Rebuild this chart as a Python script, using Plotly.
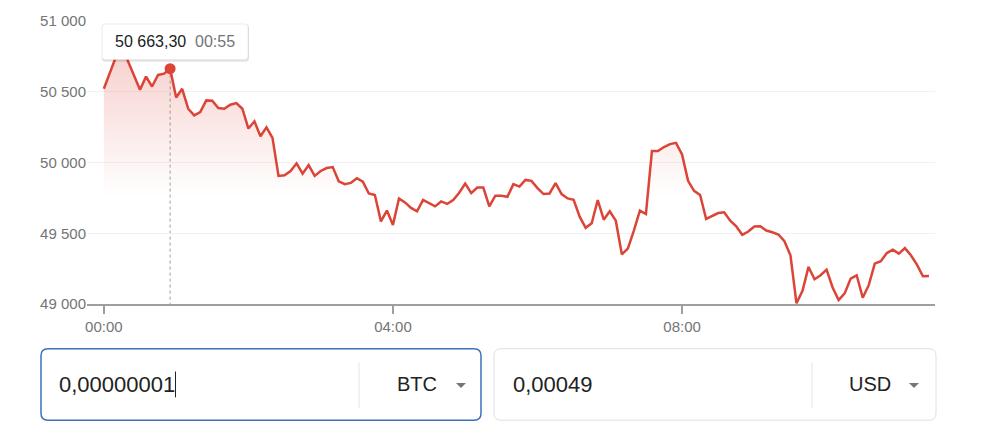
import plotly.graph_objects as go
import pandas as pd

# ---------------- data ----------------
start_time = "2021-01-01 00:00"
interval = "5min"
price = [
    50521, 50628, 50747, 50818, 50712, 50614, 50514, 50607, 50537, 50619,
    50628, 50663.3, 50460, 50521, 50380, 50333, 50356, 50439, 50436, 50385,
    50380, 50408, 50420, 50380, 50240, 50291, 50186, 50249, 50174, 49905,
    49910, 49940, 49994, 49921, 49982, 49905, 49940, 49961, 49968, 49867,
    49847, 49856, 49889, 49865, 49781, 49770, 49584, 49660, 49559, 49746,
    49718, 49679, 49655, 49735, 49714, 49690, 49725, 49707, 49735, 49786,
    49851, 49784, 49823, 49823, 49690, 49765, 49765, 49758, 49847, 49830,
    49877, 49870, 49819, 49777, 49781, 49854, 49777, 49746, 49737, 49617,
    49538, 49570, 49735, 49596, 49655, 49589, 49351, 49391, 49519, 49660,
    49636, 50081, 50081, 50109, 50130, 50139, 50057, 49870, 49800, 49770,
    49601, 49624, 49643, 49648, 49589, 49549, 49489, 49512, 49547, 49549,
    49519, 49507, 49491, 49444, 49344, 49005, 49093, 49262, 49175, 49203,
    49243, 49117, 49028, 49075, 49180, 49203, 49044, 49133, 49285, 49302,
    49360, 49384, 49356, 49395, 49344, 49278, 49196, 49198,
]
hover_index = 11
hover_price_label = "50 663,30"
hover_time_label = "00:55"

y_tick_vals = [49000, 49500, 50000, 50500, 51000]
y_tick_text = ["49 000", "49 500", "50 000", "50 500", "51 000"]
x_tick_text = ["00:00", "04:00", "08:00"]

from_amount = "0,00000001"
from_currency = "BTC"
to_amount = "0,00049"
to_currency = "USD"

times = pd.date_range(start_time, periods=len(price), freq=interval)
x_tick_vals = [pd.Timestamp("2021-01-01 " + t) for t in x_tick_text]

# ---------------- layout helpers (pixel -> paper) ----------------
W, H = 1007, 434
ML, MR, MT, MB = 87, 72, 19, 130
PW = W - ML - MR
PH = H - MT - MB


def px(x):
    return (x - ML) / PW


def py(y):
    return (H - MB - y) / PH


def rrect(x0, y0, x1, y1, r):
    return (
        f"M {px(x0 + r)},{py(y0)} L {px(x1 - r)},{py(y0)} "
        f"Q {px(x1)},{py(y0)} {px(x1)},{py(y0 + r)} L {px(x1)},{py(y1 - r)} "
        f"Q {px(x1)},{py(y1)} {px(x1 - r)},{py(y1)} L {px(x0 + r)},{py(y1)} "
        f"Q {px(x0)},{py(y1)} {px(x0)},{py(y1 - r)} L {px(x0)},{py(y0 + r)} "
        f"Q {px(x0)},{py(y0)} {px(x0 + r)},{py(y0)} Z"
    )


def tri(cx, cy, w, h):
    return (f"M {px(cx - w / 2)},{py(cy - h / 2)} L {px(cx + w / 2)},{py(cy - h / 2)} "
            f"L {px(cx)},{py(cy + h / 2)} Z")


RED = "#db4437"
FONT = "Arial, Liberation Sans, sans-serif"

fig = go.Figure()
fig.add_trace(go.Scatter(
    x=times, y=price, mode="lines",
    line=dict(color=RED, width=2.5),
    fill="tozeroy",
    fillgradient=dict(
        type="vertical",
        colorscale=[[0, "rgba(219,68,55,0)"], [0.38, "rgba(219,68,55,0)"],
                    [1, "rgba(219,68,55,0.30)"]],
        start=49000, stop=51000,
    ),
    hoverinfo="skip", showlegend=False,
))
fig.add_trace(go.Scatter(
    x=[times[hover_index]], y=[price[hover_index]], mode="markers",
    marker=dict(color=RED, size=11), hoverinfo="skip", showlegend=False,
))

shapes = []
# hover dashed line
shapes.append(dict(type="line", xref="x", yref="y",
                   x0=times[hover_index], x1=times[hover_index],
                   y0=price[hover_index], y1=49000,
                   line=dict(color="#9e9e9e", width=1, dash="dot"), layer="below"))
# tooltip shadow + box
shapes.append(dict(type="path", xref="paper", yref="paper", path=rrect(102, 23, 249, 60, 3),
                   fillcolor="rgba(0,0,0,0.10)", line=dict(width=0), layer="above"))
shapes.append(dict(type="path", xref="paper", yref="paper", path=rrect(102, 22, 248, 58, 3),
                   fillcolor="white", line=dict(color="rgba(0,0,0,0.08)", width=1), layer="above"))
# input boxes
shapes.append(dict(type="path", xref="paper", yref="paper", path=rrect(41, 349, 481, 421, 7),
                   fillcolor="white", line=dict(color="#3d72b8", width=1.5)))
shapes.append(dict(type="path", xref="paper", yref="paper", path=rrect(494, 349, 936, 421, 7),
                   fillcolor="white", line=dict(color="#e0e0e0", width=1)))
# dividers
for xd in (359, 812):
    shapes.append(dict(type="line", xref="paper", yref="paper",
                       x0=px(xd), x1=px(xd), y0=py(363), y1=py(409),
                       line=dict(color="#e4e4e4", width=1)))
# cursor
shapes.append(dict(type="line", xref="paper", yref="paper",
                   x0=px(175.5), x1=px(175.5), y0=py(372), y1=py(398),
                   line=dict(color="#222222", width=1)))
# dropdown arrows
for xa in (461, 914):
    shapes.append(dict(type="path", xref="paper", yref="paper", path=tri(xa, 386, 10, 5),
                       fillcolor="#757575", line=dict(width=0)))

annotations = [
    dict(xref="paper", yref="paper", x=px(113), y=py(40), xanchor="left", yanchor="middle",
         text=hover_price_label, showarrow=False, font=dict(family=FONT, size=16, color="#202124")),
    dict(xref="paper", yref="paper", x=px(193), y=py(40), xanchor="left", yanchor="middle",
         text=hover_time_label, showarrow=False, font=dict(family=FONT, size=16, color="#70757a")),
    dict(xref="paper", yref="paper", x=px(57), y=py(385), xanchor="left", yanchor="middle",
         text=from_amount, showarrow=False, font=dict(family=FONT, size=22, color="#222222")),
    dict(xref="paper", yref="paper", x=px(395), y=py(385), xanchor="left", yanchor="middle",
         text=from_currency, showarrow=False, font=dict(family=FONT, size=20, color="#222222")),
    dict(xref="paper", yref="paper", x=px(511), y=py(385), xanchor="left", yanchor="middle",
         text=to_amount, showarrow=False, font=dict(family=FONT, size=22, color="#222222")),
    dict(xref="paper", yref="paper", x=px(847), y=py(385), xanchor="left", yanchor="middle",
         text=to_currency, showarrow=False, font=dict(family=FONT, size=20, color="#222222")),
]

fig.update_layout(
    width=W, height=H,
    margin=dict(l=ML, r=MR, t=MT, b=MB),
    paper_bgcolor="white", plot_bgcolor="white",
    font=dict(family=FONT, color="#757575", size=15),
    shapes=shapes, annotations=annotations,
    hovermode=False, showlegend=False,
)
fig.update_xaxes(
    type="date",
    range=[pd.Timestamp("2021-01-01 00:00") - pd.Timedelta(minutes=14),
           pd.Timestamp("2021-01-01 00:00") + pd.Timedelta(minutes=690)],
    tickvals=x_tick_vals, ticktext=x_tick_text,
    showgrid=False, zeroline=False,
    showline=True, linecolor="#9e9e9e", linewidth=2,
    ticks="outside", ticklen=8, tickwidth=2, tickcolor="#9e9e9e",
    tickfont=dict(size=15, color="#757575"),
)
fig.update_yaxes(
    range=[49000, 51000],
    tickvals=y_tick_vals, ticktext=y_tick_text,
    showgrid=True, gridcolor="#f1f1f1", gridwidth=1,
    zeroline=False, showline=False, ticks="",
    ticklabelstandoff=0,
    tickfont=dict(size=15, color="#757575"),
)

fig.write_html("out.html", config={"displayModeBar": False},
               post_script="document.body.style.margin='0px';")
